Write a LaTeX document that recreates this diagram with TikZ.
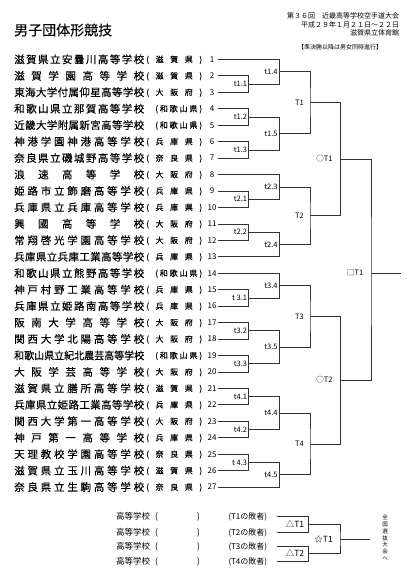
\documentclass[tikz,border=0pt]{standalone}
\usepackage{fontspec}
\setmainfont{Noto Sans CJK JP}
\newfontfamily\boldish{Noto Sans CJK JP}[FakeBold=0.25]
\usepackage{graphicx}
\usetikzlibrary{calc}
\def\spreadtext#1{\spreadA#1\relax}
\def\spreadA#1{#1\spreadB}
\def\spreadB#1{\ifx#1\relax\else\hfill#1\expandafter\spreadB\fi}
\newcommand\schoolname[1]{\setbox0\hbox{#1}\ifdim\wd0>130pt \resizebox{130pt}{\height}{#1}\else\hbox to 130pt{\spreadtext{#1}}\fi}
\newcommand\prefname[1]{\setbox0\hbox{#1}\ifdim\wd0>28pt \hbox to 56pt{\hskip 9pt(\hfill\spreadtext{#1}\hfill)}\else\hbox to 56pt{(\hfill\spreadtext{#1}\hfill)}\fi}
\newcommand\bmatch[6]{%
  \path ($(#2)!.5!(#3)$) coordinate (m#1);
  \coordinate (#1) at (m#1 -| #4);
  \draw[br] (#2) -| (#1) |- (#3);
  \node[lbl, xshift=#6] (L#1) at (#1) {#5};
}
\begin{document}
\begin{tikzpicture}[x=1pt,y=-1pt,
  txt/.style={inner sep=0pt, text=black},
  ttl/.style={txt, anchor=west, font=\boldish\fontsize{14}{16}\selectfont, text height=11.6pt, text depth=1pt},
  hd/.style={txt, anchor=east, font=\fontsize{7}{8}\selectfont, text height=5.8pt, text depth=0.5pt},
  nm/.style={txt, anchor=west, font=\boldish\fontsize{10.5}{12}\selectfont, text height=8.7pt, text depth=0.7pt},
  pf/.style={txt, anchor=west, font=\boldish\fontsize{8}{9}\selectfont, text height=6.6pt, text depth=0.5pt},
  num/.style={txt, font=\fontsize{8}{9}\selectfont, text height=5.8pt, text depth=0pt},
  lbl/.style={txt, anchor=east, font=\fontsize{7.5}{8}\selectfont, text height=5.6pt, text depth=0pt},
  blbl/.style={lbl, font=\fontsize{8.5}{9}\selectfont, text height=6.4pt},
  bt/.style={txt, anchor=west, font=\fontsize{8.5}{9}\selectfont, text height=7pt, text depth=0.6pt},
  bw/.style={txt, anchor=west, font=\fontsize{8}{9}\selectfont, text height=6.6pt, text depth=0.6pt},
  br/.style={draw=black!80, line width=0.55pt}]
\fill[white] (0,0) rectangle (420,574);
\useasboundingbox (0,0) rectangle (420,574);
% header
\node[ttl] (title) at (14,30) {男子団体形競技};
\node[hd] (h1) at (399.3,16) {第３６回　近畿高等学校空手道大会};
\node[hd] (h2) at (399.3,24.7) {平成２９年１月２１日～２２日};
\node[hd] (h3) at (399.3,33.3) {滋賀県立体育館};
\node[hd, font=\fontsize{6}{7}\selectfont, text height=5pt, anchor=center] (h4) at (340,47.7) {【準決勝以降は男女同時進行】};
% x positions of bracket columns
\coordinate (XA) at (248.7,0);
\coordinate (XB) at (279.3,0);
\coordinate (XC) at (310,0);
\coordinate (XD) at (340.7,0);
\coordinate (XE) at (371,0);
\coordinate (XF) at (400.7,0);
\coordinate (XG) at (308.3,0);
\coordinate (XH) at (340,0);
\coordinate (XI) at (370,0);
% entries
\foreach \i/\nmA/\pfA in {1/滋賀県立安曇川高等学校/滋賀県,
2/滋賀学園高等学校/滋賀県,
3/東海大学付属仰星高等学校/大阪府,
4/和歌山県立那賀高等学校/和歌山県,
5/近畿大学附属新宮高等学校/和歌山県,
6/神港学園神港高等学校/兵庫県,
7/奈良県立磯城野高等学校/奈良県,
8/浪速高等学校/大阪府,
9/姫路市立飾磨高等学校/兵庫県,
10/兵庫県立兵庫高等学校/兵庫県,
11/興國高等学校/大阪府,
12/常翔啓光学園高等学校/大阪府,
13/兵庫県立兵庫工業高等学校/兵庫県,
14/和歌山県立熊野高等学校/和歌山県,
15/神戸村野工業高等学校/兵庫県,
16/兵庫県立姫路南高等学校/兵庫県,
17/阪南大学高等学校/大阪府,
18/関西大学北陽高等学校/大阪府,
19/和歌山県立紀北農芸高等学校/和歌山県,
20/大阪学芸高等学校/大阪府,
21/滋賀県立膳所高等学校/滋賀県,
22/兵庫県立姫路工業高等学校/兵庫県,
23/関西大学第一高等学校/大阪府,
24/神戸第一高等学校/兵庫県,
25/天理教校学園高等学校/奈良県,
26/滋賀県立玉川高等学校/滋賀県,
27/奈良県立生駒高等学校/奈良県}{
  \node[nm] (s\i) at (14,{59.3+(\i-1)*16.45}) {\expandafter\schoolname\expandafter{\nmA}};
  \node[pf] (p\i) at (146,{59.3+(\i-1)*16.45}) {\expandafter\prefname\expandafter{\pfA}};
  \node[num] (n\i) at (212,{59.3+(\i-1)*16.45}) {\i};
  \coordinate (r\i) at (218,{59.3+(\i-1)*16.45});
}
% block 1
\bmatch{t11}{r2}{r3}{XA}{t1.1}{-1.5pt}
\bmatch{t12}{r4}{r5}{XA}{t1.2}{-1.5pt}
\bmatch{t13}{r6}{r7}{XA}{t1.3}{-1.5pt}
\bmatch{t14}{r1}{t11}{XB}{t1.4}{-1.5pt}
\bmatch{t15}{t12}{t13}{XB}{t1.5}{-1.5pt}
\bmatch{T1}{t14}{t15}{XC}{T1}{-6pt}
% block 2
\bmatch{t21}{r9}{r10}{XA}{t2.1}{-1.5pt}
\bmatch{t22}{r11}{r12}{XA}{t2.2}{-1.5pt}
\bmatch{t23}{r8}{t21}{XB}{t2.3}{-1.5pt}
\bmatch{t24}{t22}{r13}{XB}{t2.4}{-1.5pt}
\bmatch{T2}{t23}{t24}{XC}{T2}{-6pt}
% block 3
\bmatch{t31}{r15}{r16}{XA}{t 3.1}{-1.5pt}
\bmatch{t32}{r17}{r18}{XA}{t3.2}{-1.5pt}
\bmatch{t33}{r19}{r20}{XA}{t3.3}{-1.5pt}
\bmatch{t34}{r14}{t31}{XB}{t3.4}{-1.5pt}
\bmatch{t35}{t32}{t33}{XB}{t3.5}{-1.5pt}
\bmatch{T3}{t34}{t35}{XC}{T3}{-6pt}
% block 4
\bmatch{t41}{r21}{r22}{XA}{t4.1}{-1.5pt}
\bmatch{t42}{r23}{r24}{XA}{t4.2}{-1.5pt}
\bmatch{t43}{r25}{r26}{XA}{t 4.3}{-1.5pt}
\bmatch{t44}{t41}{t42}{XB}{t4.4}{-1.5pt}
\bmatch{t45}{t43}{r27}{XB}{t4.5}{-1.5pt}
\bmatch{T4}{t44}{t45}{XC}{T4}{-6pt}
% semifinals and final
\bmatch{oT1}{T1}{T2}{XD}{○T1}{-8pt}
\bmatch{oT2}{T3}{T4}{XD}{○T2}{-8pt}
\coordinate (qT1) at (r14 -| XE);
\coordinate (fin) at (r14 -| XF);
\draw[br] (oT1) -| (qT1) |- (oT2);
\draw[br] (qT1) -- (fin);
\node[lbl, xshift=-7.5pt] (LqT1) at (qT1) {□T1};
% losers bracket
\foreach \k/\yy/\t in {a/516.5/1, b/532.3/2, c/546/3, d/561/4}{
  \node[bt] (k\k) at (116,\yy) {高等学校};
  \node[bt] (o\k) at (155,\yy) {(};
  \node[bt] (c\k) at (197,\yy) {)};
  \node[bw] (w\k) at (228.3,\yy) {(T\t の敗者)};
  \coordinate (l\k) at (276.7,\yy);
}
\path ($(la)!.5!(lb)$) coordinate (mdT1);
\coordinate (dT1) at (mdT1 -| XG);
\draw[br] (la) -| (dT1) |- (lb);
\node[blbl, xshift=-4pt] (LdT1) at (dT1) {△T1};
\path ($(lc)!.5!(ld)$) coordinate (mdT2);
\coordinate (dT2) at (mdT2 -| XG);
\draw[br] (lc) -| (dT2) |- (ld);
\node[blbl, xshift=-4pt] (LdT2) at (dT2) {△T2};
\path ($(dT1)!.5!(dT2)$) coordinate (msT1);
\coordinate (sT1) at (msT1 -| XH);
\draw[br] (dT1) -| (sT1) |- (dT2);
\node[blbl, xshift=-7pt] (LsT1) at (sT1) {☆T1};
\coordinate (sfin) at (sT1 -| XI);
\draw[br] (sT1) -- (sfin);
\node[txt, align=center, font=\fontsize{5.5}{6.7}\selectfont] (zen) at (385,537.7) {全\\国\\選\\抜\\大\\会\\へ};
\end{tikzpicture}
\end{document}
